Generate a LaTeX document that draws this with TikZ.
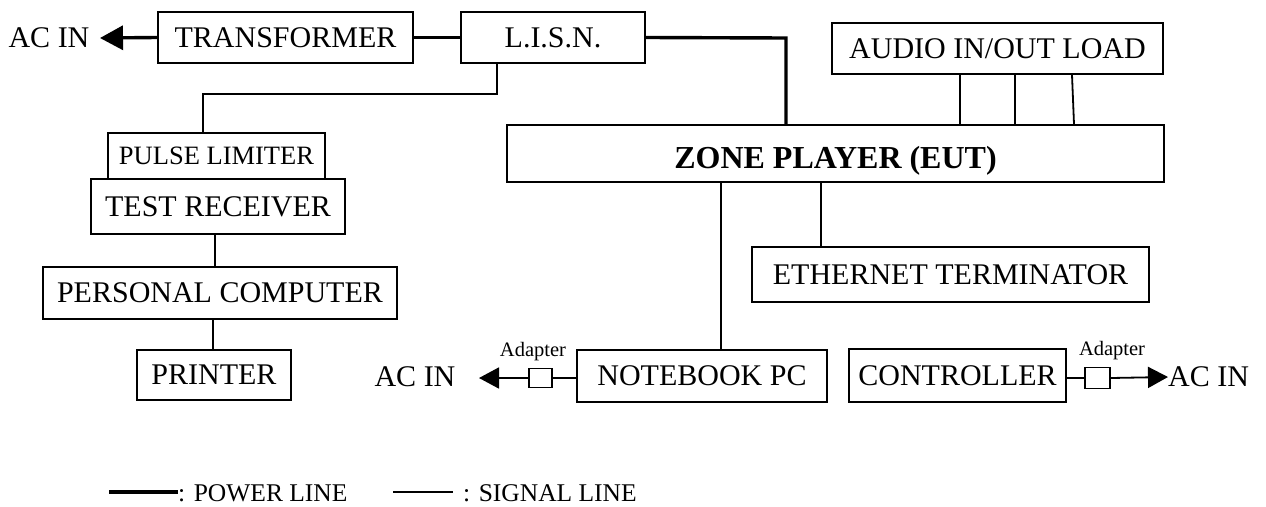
\documentclass[tikz,border=0pt]{standalone}
\usepackage{fontspec}
\setmainfont{Liberation Serif}
\usetikzlibrary{arrows.meta}
\begin{document}
\begin{tikzpicture}[x=1pt,y=-1pt,
  box/.style={draw,line width=1.8pt,inner sep=0pt,align=center,font=\fontsize{30}{32}\selectfont},
  sig/.style={line width=1.8pt},
  power/.style={line width=3.4pt},
  adbox/.style={draw,line width=1.8pt,inner sep=0pt},
  lbl/.style={inner sep=0pt,font=\fontsize{30}{32}\selectfont},
  small/.style={inner sep=0pt,font=\fontsize{20.5}{22}\selectfont},
  leg/.style={inner sep=0pt,anchor=west,font=\fontsize{25.5}{27}\selectfont}]
\useasboundingbox (0,0) rectangle (1266,506);
% boxes
\node[box,minimum width=255pt,minimum height=51pt] (trans) at (285.5,37.5) {TRANSFORMER};
\node[box,minimum width=184pt,minimum height=51pt] (lisn) at (553,37.5) {L.I.S.N.};
\node[box,minimum width=331pt,minimum height=51pt] (audio) at (997.5,48.5) {AUDIO IN/OUT LOAD};
\node[box,minimum width=657pt,minimum height=57pt,text height=29pt,text depth=0pt,font=\fontsize{32}{34}\selectfont\bfseries] (zone) at (835.5,153.5) {ZONE PLAYER (EUT)};
\node[box,minimum width=217pt,minimum height=46pt,font=\fontsize{26.5}{28}\selectfont] (pulse) at (216.5,156) {PULSE LIMITER};
\node[box,minimum width=254pt,minimum height=55pt] (recv) at (218,206.5) {TEST RECEIVER};
\node[box,minimum width=354pt,minimum height=52pt] (pc) at (220,293) {PERSONAL COMPUTER};
\node[box,minimum width=154pt,minimum height=50pt] (printer) at (214,375) {PRINTER};
\node[box,minimum width=397pt,minimum height=55pt] (eth) at (950.5,274.5) {ETHERNET TERMINATOR};
\node[box,minimum width=250pt,minimum height=52pt] (nb) at (702,376) {NOTEBOOK PC};
\node[box,minimum width=217pt,minimum height=53pt] (ctrl) at (957.5,375.5) {CONTROLLER};
\node[adbox,minimum width=23pt,minimum height=19pt] (ad1) at (540.5,378) {};
\node[adbox,minimum width=25pt,minimum height=21pt] (ad2) at (1097.5,378) {};
% labels
\node[lbl] (acin1) at (49,38) {AC IN};
\node[lbl] (acin2) at (415,377) {AC IN};
\node[lbl,anchor=west] (acin3) at (1168,377) {AC IN};
\node[small] (adl1) at (533,352) {Adapter};
\node[small] (adl2) at (1112,351) {Adapter};
% coordinates
\coordinate (tip1) at (100,38);
\coordinate (tip2) at (479,378);
\coordinate (pj) at (786,38);
\coordinate (l1) at (497,94);
\coordinate (l2) at (203,94);
\coordinate (xa) at (721,0);
\coordinate (xe) at (821,0);
\coordinate (xr) at (215,0);
\coordinate (xp) at (213,0);
\coordinate (a1) at (960,0);
\coordinate (a2) at (1015,0);
\coordinate (a3t) at (1072,0);
\coordinate (a3b) at (1074,0);
% power lines
\draw[power,-{Triangle[length=23pt,width=24pt]}] (trans.west) -- (tip1);
\draw[power] (trans.east) -- (lisn.west);
\draw[power] (lisn.east) -- (pj) -- (pj |- zone.north);
% signal lines
\draw[sig] (lisn.south -| l1) -- (l1) -- (l2) -- (l2 |- pulse.north);
\draw[sig] (recv.south -| xr) -- (pc.north -| xr);
\draw[sig] (pc.south -| xp) -- (printer.north -| xp);
\draw[sig] (audio.south -| a1) -- (zone.north -| a1);
\draw[sig] (audio.south -| a2) -- (zone.north -| a2);
\draw[sig] (audio.south -| a3t) -- (zone.north -| a3b);
\draw[sig] (zone.south -| xe) -- (eth.north -| xe);
\draw[sig] (zone.south -| xa) -- (nb.north -| xa);
\draw[sig] (nb.west |- ad1.east) -- (ad1.east);
\draw[sig,-{Triangle[length=20pt,width=21pt]}] (ad1.west) -- (tip2);
\draw[sig] (ctrl.east |- ad2.west) -- (ad2.west);
\draw[sig,-{Triangle[length=20pt,width=21pt]}] (ad2.east) -- (acin3.west);
% legend
\node[leg] (pwl) at (178,493) {: POWER LINE};
\node[leg] (sgl) at (463,493) {: SIGNAL LINE};
\coordinate (lp) at (109,492);
\coordinate (ls1) at (393,492);
\coordinate (ls2) at (453,492);
\draw[power] (lp) -- (pwl.west |- lp);
\draw[sig] (ls1) -- (ls2);
\end{tikzpicture}
\end{document}
